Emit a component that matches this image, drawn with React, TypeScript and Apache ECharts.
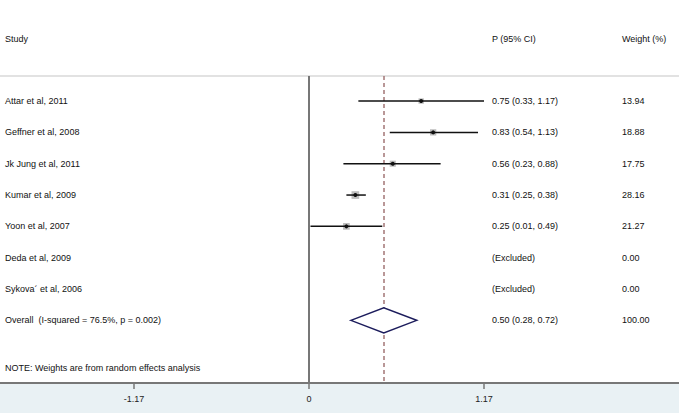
import React, { useEffect, useRef } from "react";
import * as echarts from "echarts";

const studies = [
  "Attar et al, 2011",
  "Geffner et al, 2008",
  "Jk Jung et al, 2011",
  "Kumar et al, 2009",
  "Yoon et al, 2007",
  "Deda et al, 2009",
  "Sykova´ et al, 2006",
];
const estimates = [0.75, 0.83, 0.56, 0.31, 0.25, null, null];
const lowers = [0.33, 0.54, 0.23, 0.25, 0.01, null, null];
const uppers = [1.17, 1.13, 0.88, 0.38, 0.49, null, null];
const weights = [13.94, 18.88, 17.75, 28.16, 21.27, 0, 0];
const ciLabels = [
  "0.75 (0.33, 1.17)",
  "0.83 (0.54, 1.13)",
  "0.56 (0.23, 0.88)",
  "0.31 (0.25, 0.38)",
  "0.25 (0.01, 0.49)",
  "(Excluded)",
  "(Excluded)",
];
const weightLabels = ["13.94", "18.88", "17.75", "28.16", "21.27", "0.00", "0.00"];

const overallLabel = "Overall  (I-squared = 76.5%, p = 0.002)";
const overallEstimate = 0.5;
const overallLower = 0.28;
const overallUpper = 0.72;
const overallCiLabel = "0.50 (0.28, 0.72)";
const overallWeightLabel = "100.00";

const headers = ["Study", "P (95% CI)", "Weight (%)"];
const note = "NOTE: Weights are from random effects analysis";
const tickValues = [-1.17, 0, 1.17];

const FONT = "'Liberation Sans', Arial, sans-serif";

export default function App() {
  const ref = useRef<HTMLDivElement>(null);

  useEffect(() => {
    if (!ref.current) return;
    const chart = echarts.init(ref.current, null, { renderer: "svg" });

    const rowData: number[][] = [];
    studies.forEach((_, i) => {
      if (estimates[i] != null) {
        rowData.push([i, estimates[i] as number, lowers[i] as number, uppers[i] as number, weights[i]]);
      }
    });

    const textRows = studies.map((s, i) => ({ value: [i, 0], name: s, ci: ciLabels[i], w: weightLabels[i] }));
    textRows.push({ value: [studies.length, 0], name: overallLabel, ci: overallCiLabel, w: overallWeightLabel });

    const option: any = {
      animation: false,
      backgroundColor: "#e9f1f4",
      grid: {
        left: 0,
        right: 0,
        top: 76,
        bottom: 30,
        show: true,
        backgroundColor: "#ffffff",
        borderWidth: 0,
        containLabel: false,
        outerBoundsMode: "none",
      },
      xAxis: {
        type: "value",
        min: -309 / 149.57,
        max: (679 - 309) / 149.57,
        splitLine: { show: false },
        axisLine: { show: true, onZero: false, lineStyle: { color: "#777777", width: 2 } },
        axisTick: {
          show: true,
          customValues: tickValues,
          length: 6,
          lineStyle: { color: "#777777", width: 1.5 },
        },
        axisLabel: {
          customValues: tickValues,
          margin: 11,
          fontSize: 9,
          fontFamily: FONT,
          color: "#222",
          formatter: (v: number) => String(v),
        },
      },
      yAxis: {
        type: "value",
        min: -0.8,
        max: 9.0,
        inverse: true,
        show: false,
      },
      graphic: [
        { type: "rect", shape: { x: 0, y: 0, width: 679, height: 76 }, style: { fill: "#ffffff" } },
        {
          type: "line",
          shape: { x1: 0, y1: 76, x2: 679, y2: 76 },
          style: { stroke: "#d9d9d9", lineWidth: 1.5 },
        },
        { type: "text", x: 5, y: 39, style: { text: headers[0], fontSize: 9, fontFamily: FONT, fill: "#111", verticalAlign: "middle" } },
        { type: "text", x: 492, y: 39, style: { text: headers[1], fontSize: 9, fontFamily: FONT, fill: "#111", verticalAlign: "middle" } },
        { type: "text", x: 622, y: 39, style: { text: headers[2], fontSize: 9, fontFamily: FONT, fill: "#111", verticalAlign: "middle" } },
        { type: "text", x: 5, y: 368, style: { text: note, fontSize: 9, fontFamily: FONT, fill: "#111", verticalAlign: "middle" } },
      ],
      series: [
        {
          type: "custom",
          name: "lines",
          data: [[0, 0]],
          encode: { x: 1, y: 0 },
          renderItem: () => ({ type: "group", children: [] }),
          markLine: {
            silent: true,
            symbol: "none",
            label: { show: false },
            data: [
              { xAxis: 0, lineStyle: { color: "#777777", width: 2, type: "solid" } },
              { xAxis: overallEstimate, lineStyle: { color: "#a27575", width: 1.5, type: [4, 3] } },
            ],
          },
          z: 3,
        },
        {
          type: "custom",
          name: "studies",
          data: rowData,
          encode: { x: [1, 2, 3], y: 0 },
          z: 5,
          renderItem: (params: any, api: any) => {
            const i = api.value(0);
            const est = api.value(1);
            const lo = api.value(2);
            const hi = api.value(3);
            const w = api.value(4);
            const p = api.coord([est, i]);
            const pl = api.coord([lo, i]);
            const ph = api.coord([hi, i]);
            const s = 1.45 * Math.sqrt(w);
            return {
              type: "group",
              children: [
                { type: "rect", shape: { x: p[0] - s / 2, y: p[1] - s / 2, width: s, height: s }, style: { fill: "#bdbdbd" } },
                { type: "line", shape: { x1: pl[0], y1: pl[1], x2: ph[0], y2: ph[1] }, style: { stroke: "#111", lineWidth: 1.5 } },
                { type: "circle", shape: { cx: p[0], cy: p[1], r: 2 }, style: { fill: "#111" } },
              ],
            };
          },
        },
        {
          type: "custom",
          name: "overall",
          data: [[studies.length, overallEstimate, overallLower, overallUpper]],
          encode: { x: [1, 2, 3], y: 0 },
          z: 6,
          renderItem: (params: any, api: any) => {
            const i = api.value(0);
            const c = api.coord([api.value(1), i]);
            const l = api.coord([api.value(2), i]);
            const r = api.coord([api.value(3), i]);
            const h = 12.5;
            return {
              type: "polygon",
              shape: { points: [[l[0], l[1]], [c[0], c[1] - h], [r[0], r[1]], [c[0], c[1] + h]] },
              style: { fill: "#ffffff", stroke: "#1c1c5c", lineWidth: 1.5 },
            };
          },
        },
        {
          type: "custom",
          name: "texts",
          data: textRows,
          encode: { x: 1, y: 0 },
          z: 7,
          renderItem: (params: any, api: any) => {
            const item = textRows[params.dataIndex];
            const y = api.coord([0, api.value(0)])[1];
            const st = (t: string) => ({ text: t, fontSize: 9, fontFamily: FONT, fill: "#111", verticalAlign: "middle" });
            return {
              type: "group",
              children: [
                { type: "text", x: 5, y, style: st(item.name) },
                { type: "text", x: 492, y, style: st(item.ci) },
                { type: "text", x: 622, y, style: st(item.w) },
              ],
            };
          },
        },
      ],
    };

    chart.setOption(option);
    return () => chart.dispose();
  }, []);

  return (
    <div
      ref={ref}
      style={{ position: "fixed", left: 0, top: 0, width: 679, height: 413 }}
    />
  );
}
